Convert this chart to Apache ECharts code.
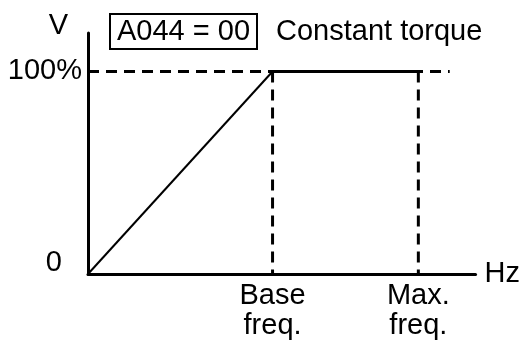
<!DOCTYPE html>
<html>
<head>
<meta charset="utf-8">
<script src="https://cdn.jsdelivr.net/npm/echarts@6/dist/echarts.min.js"></script>
<style>
  html, body { margin: 0; padding: 0; background: #fff; }
  #chart { width: 523px; height: 342px; }
</style>
</head>
<body>
<div id="chart"></div>
<script>
// Valores do gráfico V/f (torque constante)
const baseFreq = 50;
const maxFreq = 89.5;
const xAxisMax = 105;
const yAxisMax = 119;
const ratedVolt = 100;
const refLineEnd = 98;

const rampPoints = [[0, 0], [baseFreq, ratedVolt]];
const flatPoints = [[baseFreq, ratedVolt], [maxFreq, ratedVolt]];
const refLinePoints = [[0, ratedVolt], [refLineEnd, ratedVolt]];
const baseDropPoints = [[baseFreq, ratedVolt], [baseFreq, 0]];
const maxDropPoints = [[maxFreq, ratedVolt], [maxFreq, 0]];

const xTickValues = [baseFreq, maxFreq];
const xTickLabels = ['Base\nfreq.', 'Max.\nfreq.'];
const yTickValues = [0, ratedVolt];
const yTickLabels = ['0', '100%'];

const FONT = '"Liberation Sans", Arial, Helvetica, sans-serif';
const FS = 29;
const chart = echarts.init(document.getElementById('chart'));

const dashed = { color: '#000', width: 3, type: [11, 7] };

const option = {
  animation: false,
  backgroundColor: '#fff',
  title: [
    {
      text: 'A044 = 00',
      left: 110,
      top: 14,
      borderColor: '#000',
      borderWidth: 2,
      padding: [3, 7, 2, 7],
      textStyle: { fontFamily: FONT, fontSize: FS, fontWeight: 'normal', color: '#000', lineHeight: 30 },
    },
    {
      text: 'Constant torque',
      left: 276,
      top: 14,
      padding: [3, 0, 2, 0],
      textStyle: { fontFamily: FONT, fontSize: FS, fontWeight: 'normal', color: '#000', lineHeight: 30 },
    },
  ],
  grid: { left: 88, right: 45, top: 33, bottom: 68, containLabel: false },
  xAxis: {
    type: 'value',
    min: 0,
    max: xAxisMax,
    name: 'Hz',
    nameLocation: 'end',
    nameGap: 9,
    nameTextStyle: { fontFamily: FONT, fontSize: FS, color: '#000', verticalAlign: 'middle', padding: [0, 0, 6, 0] },
    axisLine: { show: true, lineStyle: { color: '#000', width: 3 } },
    axisTick: { show: false },
    splitLine: { show: false },
    axisLabel: {
      customValues: xTickValues,
      formatter: (v) => xTickLabels[xTickValues.indexOf(v)] ?? '',
      fontFamily: FONT,
      fontSize: FS,
      lineHeight: 30,
      color: '#000',
      margin: 7,
    },
  },
  yAxis: {
    type: 'value',
    min: 0,
    max: yAxisMax,
    name: 'V',
    nameLocation: 'end',
    nameGap: 7,
    nameTextStyle: { fontFamily: FONT, fontSize: FS, color: '#000', align: 'right', verticalAlign: 'middle', padding: [0, 20, 0, 0] },
    axisLine: { show: true, lineStyle: { color: '#000', width: 3 } },
    axisTick: { show: false },
    splitLine: { show: false },
    axisLabel: {
      customValues: yTickValues,
      formatter: (v) => (v === 0 ? '{z|0}' : yTickLabels[yTickValues.indexOf(v)]),
      fontFamily: FONT,
      fontSize: FS,
      color: '#000',
      margin: 6,
      rich: {
        z: { fontFamily: FONT, fontSize: FS, color: '#000', padding: [0, 20, 22, 0] },
      },
    },
  },
  series: [
    { type: 'line', data: refLinePoints, symbol: 'none', lineStyle: dashed, z: 2 },
    { type: 'line', data: baseDropPoints, symbol: 'none', lineStyle: dashed, z: 2 },
    { type: 'line', data: maxDropPoints, symbol: 'none', lineStyle: dashed, z: 2 },
    { type: 'line', data: rampPoints, symbol: 'none', lineStyle: { color: '#000', width: 2 }, z: 3 },
    { type: 'line', data: flatPoints, symbol: 'none', lineStyle: { color: '#000', width: 3 }, z: 3 },
  ],
};

chart.setOption(option);
</script>
</body>
</html>
